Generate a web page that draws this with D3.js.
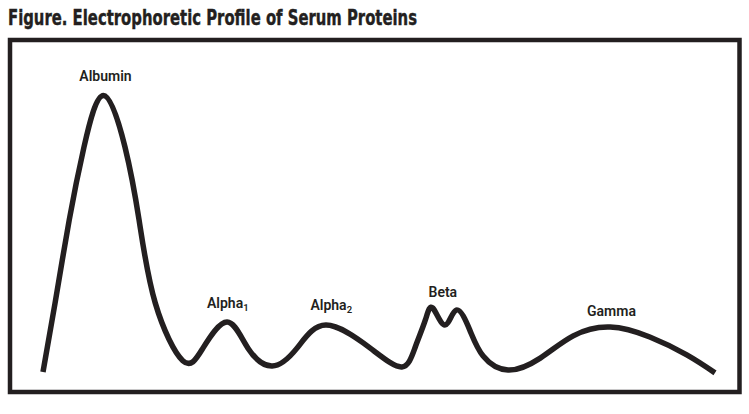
<!DOCTYPE html>
<html>
<head>
<meta charset="utf-8">
<script src="https://cdn.jsdelivr.net/npm/d3@7"></script>
<style>
  html, body { margin: 0; padding: 0; background: #fff; }
  svg { display: block; }
</style>
</head>
<body>
<svg id="chart" width="749" height="414"></svg>
<script>
// Relative mobility (0 = start of trace, 100 = end)
const mobility = [0, 1.8, 3.9, 6.1, 9.0, 12.2, 14.3, 16.7, 20.8, 23.8, 27.4, 30.5, 34.1,
  37.8, 42.1, 48.7, 53.4, 55.4, 56.9, 58.0, 59.8, 61.5, 63.5, 65.5, 69.2, 74.0, 78.9, 84.4, 90.3, 95.8, 100];
// Relative concentration (albumin peak = 100)
const density = [2.8, 27.1, 56.2, 81.9, 100, 81.9, 56.2, 27.1, 6.8, 11.2, 20.4, 11.2, 4.9,
  11.2, 19.3, 11.2, 4.6, 11.6, 21.1, 25.3, 19.3, 24.6, 17.6, 8.4, 3.5, 7.7, 15.5, 18.6, 15.1, 8.8, 2.5];

// Fraction labels and the peak they sit over
const fractionNames = ["Albumin", "Alpha", "Alpha", "Beta", "Gamma"];
const fractionSubs = ["", "1", "2", "", ""];
const fractionMobility = [9.3, 27.5, 42.9, 59.5, 84.6];
const fractionDensity = [100, 20.4, 19.3, 25.3, 18.6];

const title = "Figure. Electrophoretic Profile of Serum Proteins";

const ink = "#231f20";
const svg = d3.select("#chart");

// Title
svg.append("text")
  .attr("x", 8).attr("y", 25)
  .attr("font-family", "'Liberation Sans Narrow', 'DejaVu Sans Condensed', sans-serif")
  .attr("font-weight", "bold")
  .attr("font-size", 21)
  .attr("fill", ink)
  .attr("stroke", ink)
  .attr("stroke-width", 0.4)
  .attr("textLength", 409)
  .attr("lengthAdjust", "spacingAndGlyphs")
  .text(title);

// Frame
svg.append("rect")
  .attr("x", 10).attr("y", 40)
  .attr("width", 729.5).attr("height", 352)
  .attr("fill", "none")
  .attr("stroke", ink)
  .attr("stroke-width", 4.5);

const x = d3.scaleLinear().domain([0, 100]).range([43, 715]);
const y = d3.scaleLinear().domain([0, 100]).range([380, 95.5]);

const pts = mobility.map((m, i) => [m, density[i]]);

const line = d3.line()
  .x(d => x(d[0]))
  .y(d => y(d[1]))
  .curve(d3.curveNatural);

svg.append("path")
  .datum(pts)
  .attr("d", line)
  .attr("fill", "none")
  .attr("stroke", ink)
  .attr("stroke-width", 5.5)
  .attr("stroke-linejoin", "round");

// Labels
const labelOffset = [15, 14, 15, 11, 11];
const labels = svg.append("g")
  .attr("font-family", "Roboto, 'Open Sans', sans-serif")
  .attr("font-weight", 600)
  .attr("font-size", 14)
  .attr("fill", ink)
  .attr("text-anchor", "middle");

fractionNames.forEach((name, i) => {
  const t = labels.append("text")
    .attr("x", x(fractionMobility[i]))
    .attr("y", y(fractionDensity[i]) - labelOffset[i]);
  t.append("tspan").text(name);
  if (fractionSubs[i]) {
    t.append("tspan")
      .attr("font-size", 9.5)
      .attr("dy", 3)
      .text(fractionSubs[i]);
  }
});
</script>
</body>
</html>
